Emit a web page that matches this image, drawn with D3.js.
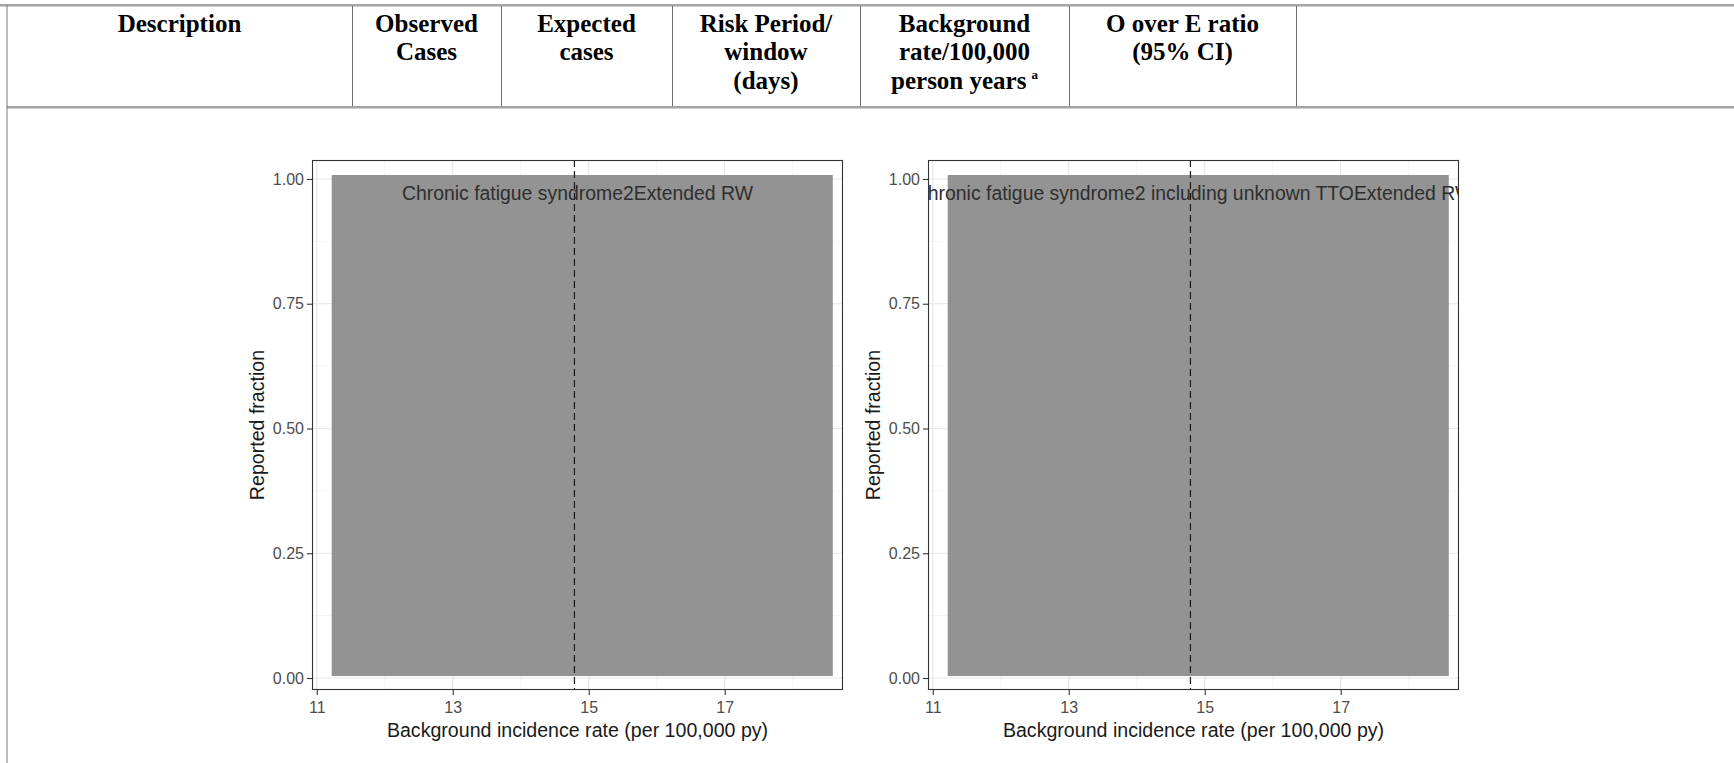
<!DOCTYPE html>
<html>
<head>
<meta charset="utf-8">
<script src="https://cdn.jsdelivr.net/npm/d3@7"></script>
<style>
  html, body { margin: 0; padding: 0; background: #fff; }
  svg { display: block; }
</style>
</head>
<body>
<svg id="fig" width="1734" height="763"></svg>
<script>
// ---- table header ----
const headerLabels = [
  ["Description"],
  ["Observed", "Cases"],
  ["Expected", "cases"],
  ["Risk Period/", "window", "(days)"],
  ["Background", "rate/100,000", "person years"],
  ["O over E ratio", "(95% CI)"],
  []
];
const headerSuperscript = [null, null, null, null, "a", null, null];

// ---- chart data ----
const panelTitles = [
  "Chronic fatigue syndrome2Extended RW",
  "Chronic fatigue syndrome2 including unknown TTOExtended RW"
];
const xTicks = [11, 13, 15, 17];
const xMinorTicks = [12, 14, 16, 18];
const yTicks = [0, 0.25, 0.5, 0.75, 1];
const yMinorTicks = [0.125, 0.375, 0.625, 0.875];
const xDomain = [10.93, 18.74];
const yDomain = [-0.024, 1.038];
// shaded region: background rate range x reported fraction range
const regionRate = [11.22, 18.59];
const regionFraction = [0.004, 1.008];
// observed background rate (dashed reference line), one per panel
const referenceRate = [14.79, 14.79];
const labelFraction = 0.972;

const svg = d3.select("#fig");

// ---- table frame ----
const colEdges = [7, 352, 501, 672, 860, 1069, 1296, 1734];
const headTop = 5, headBottom = 107;
const tbl = svg.append("g");

tbl.append("rect").attr("x", 0).attr("y", headTop - 1).attr("width", 1734).attr("height", 2.5).attr("fill", "#a3a3a3");
tbl.append("rect").attr("x", colEdges[0]).attr("y", headBottom - 1).attr("width", 1734 - colEdges[0]).attr("height", 2.5).attr("fill", "#a3a3a3");
tbl.append("line").attr("x1", colEdges[0]).attr("x2", colEdges[0]).attr("y1", headTop).attr("y2", 763)
   .attr("stroke", "#7a7a7a").attr("stroke-width", 1);
colEdges.slice(1, 7).forEach(x => {
  tbl.append("line").attr("x1", x + 0.5).attr("x2", x + 0.5).attr("y1", headTop + 1).attr("y2", headBottom - 1)
     .attr("stroke", "#6e6e6e").attr("stroke-width", 1);
});

const lineBaselines = [32, 60, 89];
headerLabels.forEach((lines, i) => {
  const cx = (colEdges[i] + colEdges[i + 1]) / 2;
  lines.forEach((txt, j) => {
    const t = tbl.append("text")
      .attr("x", cx).attr("y", lineBaselines[j])
      .attr("text-anchor", "middle")
      .attr("font-family", "'Liberation Serif', 'Times New Roman', serif")
      .attr("font-weight", "bold")
      .attr("font-size", 25)
      .attr("fill", "#000")
      .text(txt);
    if (headerSuperscript[i] && j === lines.length - 1) {
      t.append("tspan").text("\u2009");
      t.append("tspan").attr("font-size", 13).attr("dy", -10).text(headerSuperscript[i]);
    }
  });
});

// ---- panels ----
const panelW = 531, panelTop = 160, panelBottom = 690;
const panelLefts = [312, 928];
const sansFont = "'Liberation Sans', Arial, sans-serif";

panelTitles.forEach((title, k) => {
  const left = panelLefts[k];
  const x = d3.scaleLinear().domain(xDomain).range([left, left + panelW]);
  const y = d3.scaleLinear().domain(yDomain).range([panelBottom, panelTop]);
  const g = svg.append("g");

  const clipId = "clip" + k;
  svg.append("clipPath").attr("id", clipId)
    .append("rect").attr("x", left).attr("y", panelTop).attr("width", panelW).attr("height", panelBottom - panelTop);

  const inner = g.append("g").attr("clip-path", `url(#${clipId})`);

  // grid
  inner.selectAll(".gxm").data(xMinorTicks).join("line")
    .attr("x1", d => x(d)).attr("x2", d => x(d)).attr("y1", panelTop).attr("y2", panelBottom)
    .attr("stroke", "#efefef").attr("stroke-width", 0.6);
  inner.selectAll(".gym").data(yMinorTicks).join("line")
    .attr("y1", d => y(d)).attr("y2", d => y(d)).attr("x1", left).attr("x2", left + panelW)
    .attr("stroke", "#efefef").attr("stroke-width", 0.6);
  inner.selectAll(".gx").data(xTicks).join("line")
    .attr("x1", d => x(d)).attr("x2", d => x(d)).attr("y1", panelTop).attr("y2", panelBottom)
    .attr("stroke", "#e6e6e6").attr("stroke-width", 1.1);
  inner.selectAll(".gy").data(yTicks).join("line")
    .attr("y1", d => y(d)).attr("y2", d => y(d)).attr("x1", left).attr("x2", left + panelW)
    .attr("stroke", "#e6e6e6").attr("stroke-width", 1.1);

  // shaded region
  inner.append("rect")
    .attr("x", x(regionRate[0])).attr("width", x(regionRate[1]) - x(regionRate[0]))
    .attr("y", y(regionFraction[1])).attr("height", y(regionFraction[0]) - y(regionFraction[1]))
    .attr("fill", "#939393");

  // reference line
  inner.append("line")
    .attr("x1", x(referenceRate[k])).attr("x2", x(referenceRate[k]))
    .attr("y1", panelTop).attr("y2", panelBottom)
    .attr("stroke", "#1a1a1a").attr("stroke-width", 1.2).attr("stroke-dasharray", "7,4");

  // panel label
  inner.append("text")
    .attr("x", x((xDomain[0] + xDomain[1]) / 2)).attr("y", y(labelFraction))
    .attr("text-anchor", "middle").attr("dominant-baseline", "central")
    .attr("font-family", sansFont).attr("font-size", 19.4).attr("fill", "#2e2e2e")
    .text(title);

  // border
  g.append("rect").attr("x", left + 0.5).attr("y", panelTop + 0.5)
    .attr("width", panelW - 1).attr("height", panelBottom - panelTop - 1)
    .attr("fill", "none").attr("stroke", "#333").attr("stroke-width", 1.1);

  // axes
  const xAxis = d3.axisBottom(x).tickValues(xTicks).tickSize(5).tickPadding(7).tickFormat(d3.format("d"));
  const gx = g.append("g").attr("transform", `translate(0,${panelBottom})`).call(xAxis);
  gx.select(".domain").remove();
  gx.selectAll(".tick line").attr("stroke", "#333").attr("stroke-width", 1.1);
  gx.selectAll(".tick text").attr("font-family", sansFont).attr("font-size", 16).attr("fill", "#4d4d4d");

  const yAxis = d3.axisLeft(y).tickValues(yTicks).tickSize(5).tickPadding(3).tickFormat(d3.format(".2f"));
  const gy = g.append("g").attr("transform", `translate(${left},0)`).call(yAxis);
  gy.select(".domain").remove();
  gy.selectAll(".tick line").attr("stroke", "#333").attr("stroke-width", 1.1);
  gy.selectAll(".tick text").attr("font-family", sansFont).attr("font-size", 16).attr("fill", "#4d4d4d");

  // axis titles
  g.append("text")
    .attr("x", left + panelW / 2).attr("y", 737)
    .attr("text-anchor", "middle")
    .attr("font-family", sansFont).attr("font-size", 19.6).attr("fill", "#1a1a1a")
    .text("Background incidence rate (per 100,000 py)");
  g.append("text")
    .attr("transform", `translate(${left - 48},${(panelTop + panelBottom) / 2}) rotate(-90)`)
    .attr("text-anchor", "middle")
    .attr("font-family", sansFont).attr("font-size", 19.6).attr("fill", "#1a1a1a")
    .text("Reported fraction");
});
</script>
</body>
</html>
